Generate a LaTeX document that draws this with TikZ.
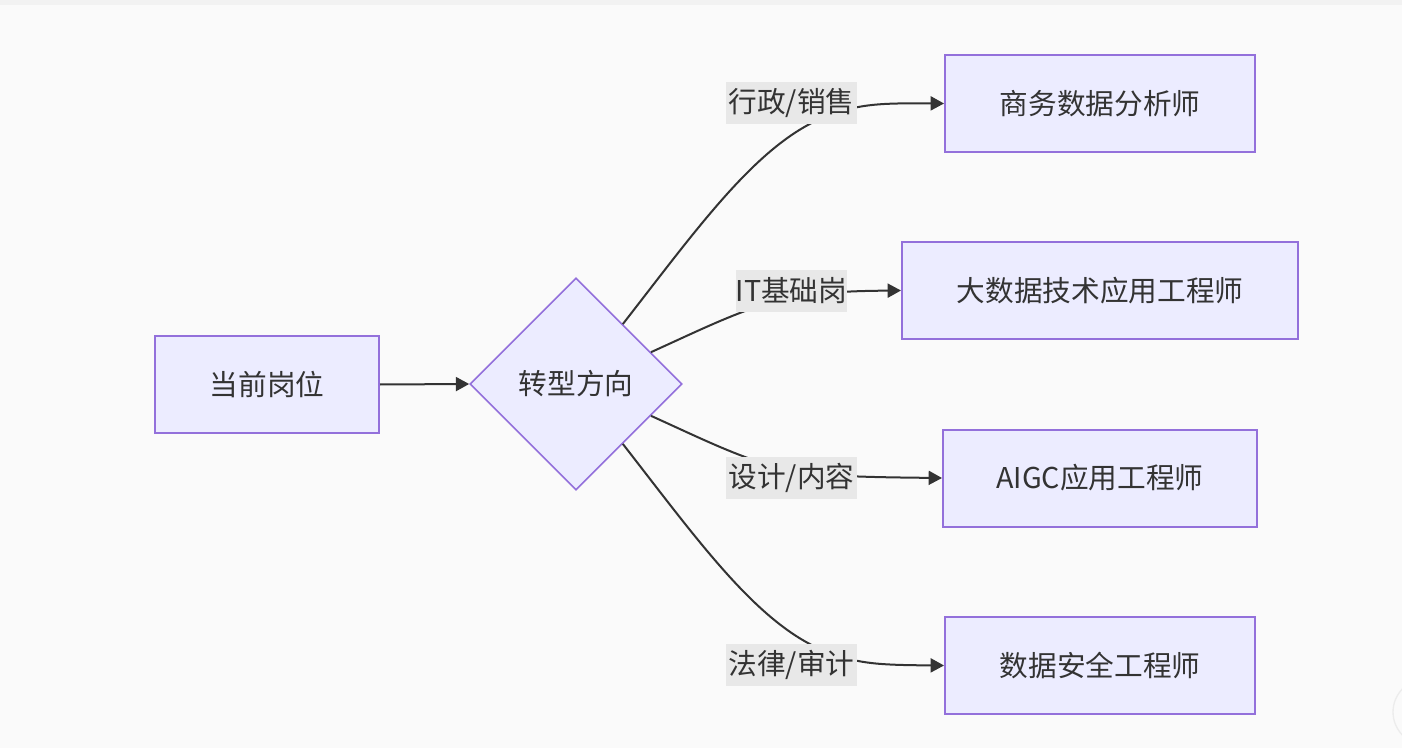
\documentclass[tikz,border=0pt]{standalone}
\usepackage{fontspec}
\setmainfont{Noto Sans CJK SC}
\usetikzlibrary{shapes.geometric,arrows.meta,calc}
\definecolor{pagebg}{HTML}{FAFAFA}
\definecolor{stripbg}{HTML}{F2F2F2}
\definecolor{nodefill}{HTML}{ECECFF}
\definecolor{nodeline}{HTML}{9370DB}
\definecolor{ink}{HTML}{333333}
\definecolor{labelbg}{HTML}{E8E8E8}
\tikzset{
  x=0.75pt, y=-0.75pt,
  txt/.style={font=\fontsize{21.5pt}{25pt}\selectfont, text=ink},
  box/.style={draw=nodeline, fill=nodefill, line width=1.5pt, rectangle,
    minimum height=97*0.75pt, inner sep=0pt, txt},
  decision/.style={draw=nodeline, fill=nodefill, line width=1.2pt, diamond,
    minimum width=212*0.75pt, minimum height=212*0.75pt, inner sep=0pt, aspect=1, txt},
  edgelabel/.style={fill=labelbg, inner sep=0pt, minimum height=42*0.75pt, txt},
  link/.style={draw=ink, line width=1.5pt, -{Triangle[length=10pt,width=10.5pt]}},
}
\begin{document}
\begin{tikzpicture}
% page and top strip
\fill[pagebg] (0,0) rectangle (1402,748);
\fill[stripbg] (0,0) rectangle (1402,5);
\useasboundingbox (0,0) rectangle (1402,748);
\draw[gray!15, line width=1pt] (1426,712) circle[radius=33];

% nodes
\node[box, minimum width=224*0.75pt] (cur) at (267,384.5) {当前岗位};
\node[decision] (dir) at (576,384) {转型方向};
\node[box, minimum width=310*0.75pt] (t1) at (1100,103.5) {商务数据分析师};
\node[box, minimum width=396*0.75pt] (t2) at (1100,290.5) {大数据技术应用工程师};
\node[box, minimum width=314*0.75pt] (t3) at (1100,478) {AIGC应用工程师};
\node[box, minimum width=310*0.75pt] (t4) at (1100,665.5) {数据安全工程师};

% points the curves pass through
\coordinate (k1) at (830,115);
\coordinate (k2) at (780,300);
\coordinate (k3) at (780,468);
\coordinate (k4) at (830,653);

% connectors
\draw[link] (cur.east) -- (dir.west);
\draw[link] (dir.52) .. controls (700,225) and (760,140) .. (k1)
  .. controls (860,104) and (880,103) .. (t1.west);
\draw[link] (dir.23) .. controls (700,330) and (740,310) .. (k2)
  .. controls (820,292) and (850,291) .. (t2.west);
\draw[link] (dir.-23) .. controls (700,438) and (740,458) .. (k3)
  .. controls (820,476) and (850,477) .. (t3.west);
\draw[link] (dir.-52) .. controls (700,543) and (760,628) .. (k4)
  .. controls (860,664) and (880,665) .. (t4.west);

% edge labels
\node[edgelabel, minimum width=131*0.75pt] (l1) at (791.5,103) {行政/销售};
\node[edgelabel, minimum width=111*0.75pt] (l2) at (791.5,291) {IT基础岗};
\node[edgelabel, minimum width=131*0.75pt] (l3) at (791.5,478) {设计/内容};
\node[edgelabel, minimum width=131*0.75pt] (l4) at (791.5,665) {法律/审计};
\end{tikzpicture}
\end{document}
